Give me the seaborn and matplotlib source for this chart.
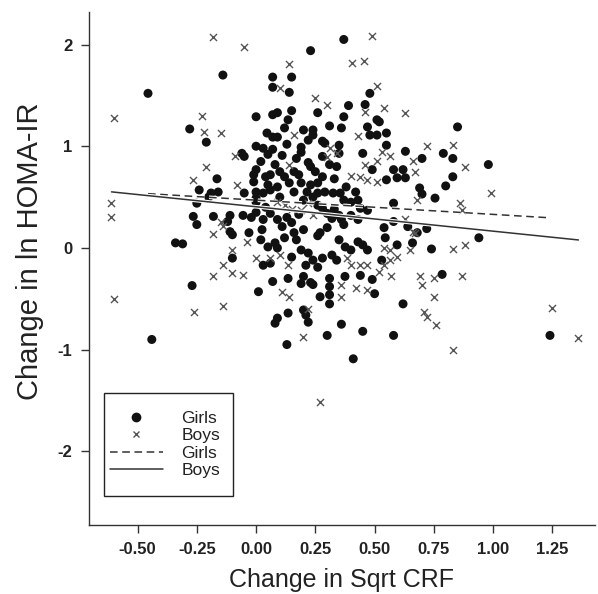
import matplotlib
matplotlib.use("Agg")
import matplotlib.pyplot as plt
import matplotlib.patheffects as pe
import seaborn as sns
import pandas as pd
from matplotlib.lines import Line2D
from matplotlib.patches import Rectangle

# Change in sqrt CRF (x) and change in ln HOMA-IR (y), girls
girls_x = [-0.14, -0.456, 0.0, -0.28, -0.21, 0.0, -0.06, -0.05,
           0.37, 0.23, 0.07, 0.15, 0.07, 0.14, 0.48, 0.39, 0.46, 0.07, 0.09, 0.15,
           0.26, 0.37, 0.31, 0.36, 0.51, 0.52, 0.47, 0.55, 0.48, 0.51, 0.135, 0.12,
           0.046, 0.07, 0.09, 0.2, 0.24, 0.24, 0.22, 0.28, 0.29, 0.35, 0.19, 0.19,
           0.03, 0.11, 0.45, 0.55, 0.63, 0.28,
           0.85, 0.79, 0.83, 0.70,
           0.98, 0.83, 0.80, 0.69, 0.70, 0.755, 0.72, 0.94, 0.74, 0.785,
           1.24,
           -0.27, 0.01, -0.44,
           0.07, 0.19, 0.24, 0.27, 0.31, 0.31, 0.31, 0.50, 0.62, 0.09, 0.08, 0.135,
           0.20, 0.21, 0.22, 0.36, 0.30, 0.45, 0.58, 0.13, 0.41,
           -0.165, -0.24, -0.19, -0.20, -0.16, -0.05, -0.01, 0.0, 0.0, -0.25,
           -0.265, -0.25, -0.18, -0.11, -0.11, -0.10, -0.12, -0.055, -0.03, -0.34,
           -0.31, -0.10,
           0.31, 0.35,
           0.02, 0.0, -0.01, 0.22, 0.16, 0.10, 0.06,
           0.49, 0.55, 0.595, 0.63, 0.58, 0.62,
           0.14, 0.19, 0.23, 0.26, 0.16, 0.215, 0.26, 0.29, 0.325, 0.355, 0.37, 0.40,
           0.03, 0.06, 0.09,
           0.0, 0.0, 0.04, 0.06, 0.09, 0.13, 0.11,
           0.26, 0.28, 0.30, 0.32, 0.35, 0.36, 0.37, 0.40, 0.43, 0.43, 0.44, 0.47,
           0.58, 0.58, 0.54, 0.64, 0.68, 0.545, 0.595, 0.66,
           0.53, 0.49,
           0.025, 0.05, 0.08, 0.09, 0.03, 0.06, 0.16, 0.17, 0.19, 0.15, 0.22, 0.24,
           0.26, 0.21, 0.20, 0.28, 0.32, 0.34, 0.35, 0.376, 0.40, 0.43, 0.45, 0.47,
           0.135, 0.23, 0.31, 0.375, 0.44,
           0.05, 0.08, 0.12, 0.18, 0.25, 0.28, 0.33, 0.20, 0.24, 0.03,
           0.15, 0.20, 0.26, 0.30, 0.12, 0.02, -0.02, 0.33, 0.05, 0.10,
           0.17, 0.38, 0.42, 0.13, 0.07, 0.23, 0.34, 0.18, 0.27, 0.04]
girls_y = [1.70, 1.52, 1.29, 1.17, 1.04, 1.00, 0.93, 0.90,
           2.05, 1.94, 1.68, 1.68, 1.58, 1.53, 1.52, 1.40, 1.41, 1.31, 1.33, 1.35,
           1.33, 1.29, 1.20, 1.18, 1.26, 1.24, 1.19, 1.13, 1.11, 1.11, 1.26, 1.18,
           1.13, 1.09, 1.09, 1.16, 1.16, 1.11, 1.06, 1.05, 1.03, 1.01, 0.99, 0.94,
           0.98, 0.91, 0.93, 1.01, 0.95, 0.90,
           1.19, 0.93, 0.88, 0.88,
           0.82, 0.70, 0.61, 0.59, 0.53, 0.49, 0.19, 0.10, -0.01, -0.26,
           -0.86,
           -0.37, -0.43, -0.90,
           -0.33, -0.35, -0.36, -0.48, -0.38, -0.46, -0.55, -0.45, -0.55, -0.69, -0.74, -0.64,
           -0.61, -0.66, -0.73, -0.75, -0.86, -0.82, -0.86, -0.95, -1.09,
           0.68, 0.57, 0.54, 0.50, 0.55, 0.54, 0.65, 0.55, 0.49, 0.44,
           0.31, 0.23, 0.31, 0.32, 0.16, 0.13, 0.26, 0.32, 0.15, 0.05,
           0.04, -0.10,
           0.82, 0.93,
           0.85, 0.77, 0.72, 0.84, 0.75, 0.75, 0.72,
           0.77, 0.67, 0.69, 0.69, 0.77, 0.77,
           0.64, 0.64, 0.62, 0.64, 0.55, 0.55, 0.54, 0.55, 0.54, 0.54, 0.47, 0.45,
           0.54, 0.57, 0.60,
           0.45, 0.35, 0.40, 0.34, 0.28, 0.30, 0.21,
           0.42, 0.39, 0.34, 0.29, 0.32, 0.28, 0.23, 0.32, 0.28, 0.47, 0.39, 0.37,
           0.44, 0.26, 0.20, 0.21, 0.15, 0.10, 0.03, 0.05,
           -0.12, -0.31,
           0.18, 0.01, 0.05, 0.00, -0.17, -0.15, 0.15, 0.08, -0.02, -0.09, -0.05, -0.12,
           -0.19, -0.17, -0.28, -0.10, -0.07, -0.12, 0.08, 0.01, -0.02, 0.06, 0.03, -0.02,
           -0.30, -0.34, -0.30, -0.28, -0.27,
           0.92, 0.82, 0.70, 0.72, 0.75, 0.70, 0.68, 0.47, 0.50, 0.28,
           0.25, 0.18, 0.12, 0.20, 0.10, 0.08, 0.30, 0.38, 0.62, 0.50,
           0.88, 0.60, 0.55, 1.02, 0.97, 0.80, 0.80, 0.33, 0.15, 0.70]

# Boys
boys_x = [-0.18, -0.05, -0.60, -0.23, -0.22, -0.15, -0.09,
          0.49, 0.14, 0.405, 0.456, 0.10, 0.51, 0.25, 0.30, 0.54, 0.63, 0.46, 0.43,
          0.16, 0.31, 0.34, 0.53, 0.565,
          0.72, 0.83,
          0.88, 0.67, 0.68, 0.99, 0.86, 0.87, 0.67, 0.83, 0.88, 0.69, 0.75, 0.87, 0.70,
          0.75, 0.71, 0.72, 0.76, 0.83, 1.25, 1.36,
          -0.60, -0.26, -0.14,
          0.11, 0.14, 0.36, 0.36, 0.42, 0.47, 0.22, 0.20, 0.27,
          -0.21, -0.265, -0.08, -0.61, -0.61, -0.15, -0.14, -0.18, -0.04, -0.10, 0.0,
          -0.14, -0.10, -0.055, -0.18,
          0.30, 0.14, 0.46, 0.51, 0.66, 0.40, 0.44, 0.47, 0.51, 0.09, 0.12, 0.15,
          0.19, 0.22, 0.24, 0.63, 0.66, 0.565, 0.54, 0.595, 0.65, 0.54, 0.565, 0.57,
          0.06, 0.10, 0.135, 0.385, 0.40, 0.44, 0.47, 0.52]
boys_y = [2.07, 1.98, 1.28, 1.30, 1.14, 1.13, 0.90,
          2.08, 1.81, 1.82, 1.84, 1.57, 1.59, 1.47, 1.41, 1.38, 1.33, 1.34, 1.10,
          1.11, 0.98, 0.93, 0.94, 0.90,
          1.00, 1.01,
          0.80, 0.75, 0.47, 0.54, 0.44, 0.37, 0.15, -0.01, 0.03, -0.28, -0.30, -0.28, -0.36,
          -0.48, -0.63, -0.68, -0.76, -1.00, -0.59, -0.89,
          -0.50, -0.63, -0.57,
          -0.43, -0.48, -0.36, -0.48, -0.39, -0.41, -0.60, -0.88, -1.51,
          0.80, 0.67, 0.62, 0.44, 0.30, 0.26, 0.22, 0.14, 0.06, -0.02, -0.10,
          -0.17, -0.25, -0.27, -0.28,
          0.89, 0.82, 0.82, 0.85, 0.85, 0.71, 0.70, 0.67, 0.65, 0.45, 0.42, 0.38,
          0.37, 0.44, 0.32, 0.28, 0.16, -0.02, 0.00, -0.09, -0.02, -0.17, -0.12, -0.28,
          -0.10, -0.07, -0.17, -0.10, -0.17, -0.17, -0.17, -0.24]

# Fitted lines: (intercept, slope)
fit_girls = (0.47, -0.14)
fit_boys = (0.405, -0.24)

x_ticks = [-0.50, -0.25, 0.00, 0.25, 0.50, 0.75, 1.00, 1.25]
y_ticks = [-2, -1, 0, 1, 2]

sns.set_theme(style="ticks")
plt.rcParams["font.family"] = ["Liberation Sans", "DejaVu Sans"]

fig = plt.figure(figsize=(5.98, 5.94), dpi=100)
ax = fig.add_axes([0.1488, 0.1162, 0.8462, 0.8636])

girls = pd.DataFrame({"crf": girls_x, "homa": girls_y})
boys = pd.DataFrame({"crf": boys_x, "homa": boys_y})

sns.scatterplot(data=girls, x="crf", y="homa", marker="o", s=42,
                color="#111111", edgecolor="none", ax=ax, zorder=2)
sns.scatterplot(data=boys, x="crf", y="homa", marker="x", s=26,
                color="#555555", linewidth=1.0, ax=ax, zorder=3)

halo = [pe.Stroke(linewidth=2.6, foreground="white"), pe.Normal()]
for xs, (b0, b1), ls in [(girls_x, fit_girls, "--"), (boys_x, fit_boys, "-")]:
    lx = [min(xs), max(xs)]
    ly = [b0 + b1 * v for v in lx]
    sns.lineplot(x=lx, y=ly, ax=ax, color="#333333", linewidth=1.1, zorder=4)
    line = ax.lines[-1]
    line.set_path_effects(halo)
    if ls == "--":
        line.set_dashes([5, 3])

ax.set_xlim(-0.705, 1.43)
ax.set_ylim(-2.724, 2.32)
ax.set_xticks(x_ticks)
ax.set_xticklabels([f"{v:.2f}" for v in x_ticks], fontweight="bold")
ax.set_yticks(y_ticks)
ax.set_yticklabels([str(v) for v in y_ticks], fontweight="bold")
ax.tick_params(direction="out", length=6, width=1.0, color="#333333",
               labelsize=12, labelcolor="#222222", pad=6)

for side in ["top", "right"]:
    ax.spines[side].set_visible(False)
for side in ["left", "bottom"]:
    ax.spines[side].set_color("#333333")
    ax.spines[side].set_linewidth(1.0)

ax.set_xlabel("Change in Sqrt CRF", fontsize=18, color="#222222", labelpad=8)
ax.set_ylabel("Change in ln HOMA-IR", fontsize=21, color="#222222")
ax.yaxis.set_label_coords(-0.088, 0.533)

# Legend frame and entries
ax.add_patch(Rectangle((0.0296, 0.0565), 0.255, 0.2008, transform=ax.transAxes,
                       fill=False, edgecolor="#222222", linewidth=1.0, zorder=5))
handles = [
    Line2D([], [], marker="o", linestyle="none", color="#111111", markersize=6),
    Line2D([], [], marker="x", linestyle="none", color="#555555", markersize=5, markeredgewidth=1.0),
    Line2D([], [], linestyle=(0, (5, 3)), color="#333333", linewidth=1.1),
    Line2D([], [], linestyle="-", color="#333333", linewidth=1.1),
]
ax.legend(handles, ["Girls", "Boys", "Girls", "Boys"], loc="center left",
          bbox_to_anchor=(0.0415, 0.157), frameon=False, fontsize=12.5,
          handlelength=3.05, handletextpad=1.05, labelspacing=0.14,
          borderpad=0, borderaxespad=0, labelcolor="#222222")

fig.savefig("out.png", dpi=100)
